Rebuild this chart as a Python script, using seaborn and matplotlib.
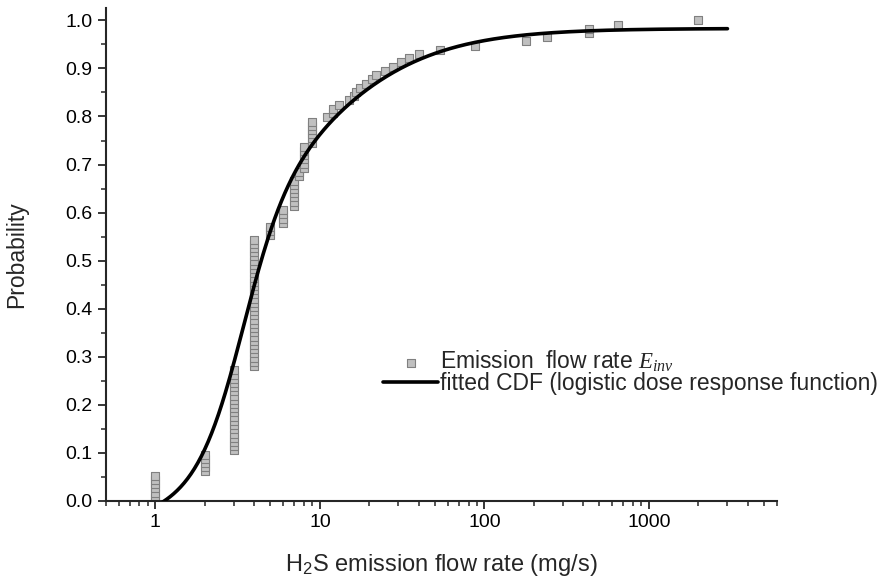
import numpy as np
import matplotlib
matplotlib.use('Agg')
import matplotlib.pyplot as plt
import seaborn as sns
from matplotlib.ticker import FixedLocator, MultipleLocator, LogLocator, NullFormatter, FormatStrFormatter

# observed emission flow rates (mg/s) and how many times each occurs
flow_values = [1, 2, 3, 4, 5, 6, 7, 7.5, 8, 9, 11, 12, 13, 15, 16, 16.5, 17.4, 19, 20.7, 22,
               25, 27.8, 31, 35, 40, 54, 88, 180, 240, 430, 650, 2000]
flow_counts = [7, 5, 20, 31, 3, 4, 7, 2, 6, 6, 1, 2, 1, 1, 1, 1, 1, 1, 1, 1,
               1, 1, 1, 1, 1, 1, 1, 1, 1, 2, 1, 1]

# fitted CDF parameters (sum of two logistic dose response terms)
fit_offset = -0.0648
fit_weights = [0.5738, 0.4742]
fit_x0 = [3.383, 7.776]
fit_power = [3.229, 1.126]
fit_range = (1, 3000)

xticks = [1, 10, 100, 1000]
xtick_labels = ['1', '10', '100', '1000']


def fitted_cdf(x):
    y = np.full_like(x, fit_offset, dtype=float)
    for w, x0, p in zip(fit_weights, fit_x0, fit_power):
        y += w / (1 + (x0 / x) ** p)
    return y


# empirical CDF positions of the sorted observations
flow = np.repeat(flow_values, flow_counts)
prob = np.arange(len(flow)) / (len(flow) - 1)

xs = np.logspace(np.log10(fit_range[0]), np.log10(fit_range[1]), 500)
ys = fitted_cdf(xs)

sns.set_style('ticks')
plt.rcParams['font.family'] = ['Liberation Sans', 'DejaVu Sans']
plt.rcParams['mathtext.fontset'] = 'custom'
plt.rcParams['mathtext.rm'] = 'Liberation Sans'
plt.rcParams['mathtext.it'] = 'Liberation Serif:italic'

fig = plt.figure(figsize=(8.9, 5.85), dpi=100)
ax = fig.add_axes([0.119, 0.1436, 0.754, 0.843])

sns.scatterplot(x=flow, y=prob, marker='s', s=40, color='#c0c0c0', edgecolor='#808080',
                linewidth=0.8, ax=ax, label=r'Emission  flow rate $E_{inv}$', zorder=2)
sns.lineplot(x=xs, y=ys, color='black', linewidth=2.6, ax=ax, sort=False,
             estimator=None, label='fitted CDF (logistic dose response function)', zorder=3)

ax.set_xscale('log')
ax.set_xlim(0.5, 6000)
ax.set_ylim(0, 1.026)
ax.xaxis.set_major_locator(FixedLocator(xticks))
ax.set_xticklabels(xtick_labels)
ax.xaxis.set_minor_locator(LogLocator(base=10, subs=np.arange(2, 10)))
ax.xaxis.set_minor_formatter(NullFormatter())
ax.yaxis.set_major_locator(MultipleLocator(0.1))
ax.yaxis.set_minor_locator(MultipleLocator(0.05))
ax.yaxis.set_major_formatter(FormatStrFormatter('%.1f'))

for s in ['top', 'right']:
    ax.spines[s].set_visible(False)
for s in ['left', 'bottom']:
    ax.spines[s].set_linewidth(1.5)
ax.tick_params(which='major', direction='out', length=6, width=1.1, labelsize=14, colors='black')
ax.tick_params(which='minor', direction='out', length=3.5, width=1.1)

ax.set_xlabel(r'H$_{\mathregular{2}}$S emission flow rate (mg/s)', fontsize=17, labelpad=15)
ax.set_ylabel('Probability', fontsize=16.5, labelpad=27)

ax.legend(loc='center left', bbox_to_anchor=(383 / 890, 1 - 372 / 585), bbox_transform=fig.transFigure,
          frameon=False, fontsize=16.5, handlelength=2.4, handletextpad=0.1, labelspacing=-0.1,
          borderpad=0, borderaxespad=0)

fig.savefig('out.png', dpi=100)
